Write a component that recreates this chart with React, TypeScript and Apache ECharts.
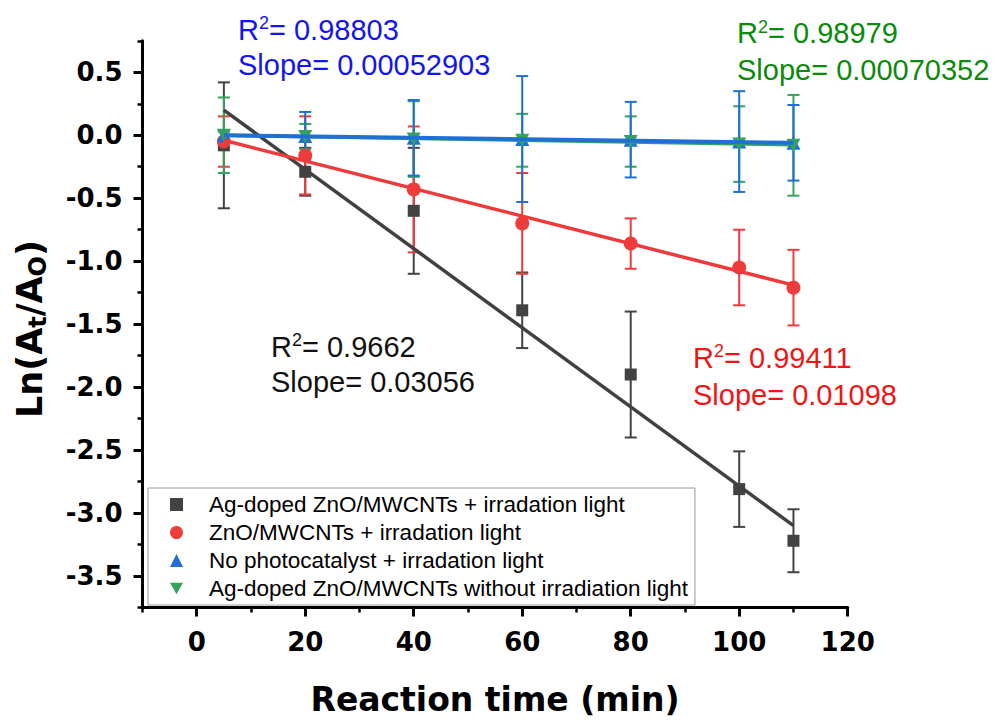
import React, { useEffect, useRef } from "react";
import * as echarts from "echarts";

// ---- data ----
const time = [5, 20, 40, 60, 80, 100, 110];

const agLight = [-0.08, -0.29, -0.6, -1.39, -1.9, -2.81, -3.22];
const agLightErr = [0.5, 0.19, 0.5, 0.3, 0.5, 0.3, 0.25];

const znoLight = [-0.05, -0.16, -0.43, -0.7, -0.86, -1.05, -1.21];
const znoLightErr = [0.2, 0.31, 0.5, 0.4, 0.2, 0.3, 0.3];

const noCatLight = [0.0, -0.005, -0.02, -0.03, -0.035, -0.05, -0.06];
const noCatLightErr = [0.03, 0.19, 0.3, 0.5, 0.3, 0.4, 0.3];

const agDark = [0.0, -0.01, -0.03, -0.04, -0.05, -0.07, -0.08];
const agDarkErr = [0.3, 0.1, 0.3, 0.21, 0.2, 0.3, 0.4];

const fitX = [5, 110];
const agLightFit = [0.2, -3.1];
const znoLightFit = [-0.04, -1.19];
const noCatLightFit = [0.0, -0.06];
const agDarkFit = [0.0, -0.075];

const xMajorTicks = [0, 20, 40, 60, 80, 100, 120];
const yMajorTicks = [-3.5, -3, -2.5, -2, -1.5, -1, -0.5, 0, 0.5];

const names = [
  "Ag-doped ZnO/MWCNTs + irradation light",
  "ZnO/MWCNTs + irradation light",
  "No photocatalyst + irradation light",
  "Ag-doped ZnO/MWCNTs without irradiation light",
];

const annotations = [
  { r2: "0.98803", slope: "0.00052903", color: "#1414ee", x: 238, y1: 29.5, y2: 65 },
  { r2: "0.98979", slope: "0.00070352", color: "#0b8a0b", x: 737, y1: 33, y2: 70 },
  { r2: "0.9662", slope: "0.03056", color: "#111111", x: 271, y1: 346.7, y2: 381.7 },
  { r2: "0.99411", slope: "0.01098", color: "#f01515", x: 693, y1: 357.5, y2: 395 },
];

const colors = ["#424242", "#ee3b3b", "#1f6fd6", "#34a35e"];
const downTri = "path://M0,0 L10,0 L5,9 Z";

export default function App() {
  const ref = useRef<HTMLDivElement>(null);

  useEffect(() => {
    if (!ref.current) return;
    const chart = echarts.init(ref.current, null, { renderer: "svg" });

    const pair = (xs: number[], ys: number[]) => xs.map((x, i) => [x, ys[i]]);
    const triple = (ys: number[], es: number[]) => time.map((x, i) => [x, ys[i], es[i]]);

    const errSeries = (data: number[][], color: string, name: string) => ({
      type: "custom",
      name: name + " err",
      data,
      z: 2,
      clip: false,
      silent: true,
      encode: { x: 0, y: 1 },
      renderItem: (params: any, api: any) => {
        const x = api.value(0);
        const y = api.value(1);
        const e = api.value(2);
        const top = api.coord([x, y + e]);
        const bot = api.coord([x, y - e]);
        const hw = 6;
        const style = { stroke: color, lineWidth: 2, fill: "none" };
        return {
          type: "group",
          children: [
            { type: "line", shape: { x1: top[0], y1: top[1], x2: bot[0], y2: bot[1] }, style },
            { type: "line", shape: { x1: top[0] - hw, y1: top[1], x2: top[0] + hw, y2: top[1] }, style },
            { type: "line", shape: { x1: bot[0] - hw, y1: bot[1], x2: bot[0] + hw, y2: bot[1] }, style },
          ],
        };
      },
    });

    const fitSeries = (ys: number[], color: string, width: number, z: number) => ({
      type: "line",
      data: pair(fitX, ys),
      symbol: "none",
      silent: true,
      z,
      lineStyle: { color, width },
    });

    const scatter = (name: string, ys: number[], color: string, symbol: string, size: any) => ({
      type: "scatter",
      name,
      data: pair(time, ys),
      symbol,
      symbolSize: size,
      z: 3,
      itemStyle: { color, opacity: 1 },
    });

    const graphic: any[] = [];
    annotations.forEach((a) => {
      graphic.push({
        type: "text",
        x: a.x,
        y: a.y1,
        silent: true,
        style: {
          text: "{n|R}{s|2}{n|= " + a.r2 + "}",
          align: "left",
          verticalAlign: "middle",
          fill: a.color,
          rich: {
            n: { fontSize: 29, fontFamily: "Liberation Sans", fill: a.color, lineHeight: 31 },
            s: { fontSize: 18, fontFamily: "Liberation Sans", fill: a.color, verticalAlign: "top", lineHeight: 18 },
          },
        },
      });
      graphic.push({
        type: "text",
        x: a.x,
        y: a.y2,
        silent: true,
        style: {
          text: "Slope= " + a.slope,
          fontSize: 29,
          fontFamily: "Liberation Sans",
          fill: a.color,
          align: "left",
          verticalAlign: "middle",
        },
      });
    });

    graphic.push({
      type: "text",
      x: 495,
      y: 699,
      silent: true,
      style: {
        text: "Reaction time (min)",
        fontSize: 33,
        fontWeight: "bold",
        fontFamily: "DejaVu Sans",
        fill: "#000",
        align: "center",
        verticalAlign: "middle",
      },
    });

    graphic.push({
      type: "text",
      x: 30,
      y: 329,
      rotation: Math.PI / 2,
      silent: true,
      style: {
        text: "{a|Ln(A}{b|t}{a|/A}{b|O}{a|)}",
        align: "center",
        verticalAlign: "middle",
        fill: "#000",
        rich: {
          a: { fontSize: 35, fontWeight: "bold", fontFamily: "DejaVu Sans", fill: "#000", lineHeight: 40 },
          b: { fontSize: 24, fontWeight: "bold", fontFamily: "DejaVu Sans", fill: "#000", lineHeight: 24, verticalAlign: "bottom" },
        },
      },
    });

    const tickLabel = {
      fontSize: 26,
      fontWeight: "bold",
      fontFamily: "DejaVu Sans",
      color: "#000",
    };

    chart.setOption({
      animation: false,
      grid: {
        left: 142.5,
        right: 147.3,
        top: 40.8,
        bottom: 114.5,
        containLabel: false,
        outerBoundsMode: "none",
      },
      xAxis: [
        {
          type: "value",
          min: -10,
          max: 120,
          interval: 10,
          position: "bottom",
          axisLine: { show: true, onZero: false, lineStyle: { color: "#000", width: 3 } },
          axisTick: { show: true, inside: false, length: 5, lineStyle: { color: "#000", width: 2.5 } },
          axisLabel: { show: false },
          splitLine: { show: false },
        },
        {
          type: "value",
          min: -10,
          max: 120,
          position: "bottom",
          axisLine: { show: false, onZero: false },
          axisTick: { show: true, length: 9, customValues: xMajorTicks, lineStyle: { color: "#000", width: 3 } },
          axisLabel: { ...tickLabel, margin: 21, customValues: xMajorTicks },
          splitLine: { show: false },
        },
      ],
      yAxis: [
        {
          type: "value",
          min: -3.75,
          max: 0.75,
          interval: 0.25,
          position: "left",
          axisLine: { show: true, onZero: false, lineStyle: { color: "#000", width: 3 } },
          axisTick: { show: true, length: 5, lineStyle: { color: "#000", width: 2.5 } },
          axisLabel: { show: false },
          splitLine: { show: false },
        },
        {
          type: "value",
          min: -3.75,
          max: 0.75,
          position: "left",
          axisLine: { show: false, onZero: false },
          axisTick: { show: true, length: 9, customValues: yMajorTicks, lineStyle: { color: "#000", width: 3 } },
          axisLabel: {
            ...tickLabel,
            margin: 20,
            customValues: yMajorTicks,
            formatter: (v: number) => v.toFixed(1),
          },
          splitLine: { show: false },
        },
      ],
      legend: {
        orient: "vertical",
        left: 148,
        top: 488,
        padding: [5, 7, 5, 22],
        itemGap: 5,
        itemWidth: 13,
        itemHeight: 13,
        borderColor: "#9a9a9a",
        borderWidth: 1,
        backgroundColor: "#fff",
        textStyle: {
          fontSize: 22.5,
          fontFamily: "Liberation Sans",
          color: "#000",
          padding: [0, 0, 0, 21],
        },
        data: [
          { name: names[0], icon: "rect" },
          { name: names[1], icon: "circle" },
          { name: names[2], icon: "triangle" },
          { name: names[3], icon: downTri },
        ],
        selectedMode: false,
      },
      graphic,
      series: [
        errSeries(triple(agLight, agLightErr), colors[0], names[0]),
        errSeries(triple(znoLight, znoLightErr), colors[1], names[1]),
        errSeries(triple(agDark, agDarkErr), colors[3], names[3]),
        errSeries(triple(noCatLight, noCatLightErr), colors[2], names[2]),
        scatter(names[0], agLight, colors[0], "rect", 12),
        scatter(names[1], znoLight, colors[1], "circle", 14),
        scatter(names[2], noCatLight, colors[2], "triangle", 14),
        scatter(names[3], agDark, colors[3], downTri, [14, 13]),
        fitSeries(agLightFit, "#404040", 3.5, 4),
        fitSeries(znoLightFit, "#ee3a3a", 3.5, 4),
        fitSeries(agDarkFit, "#34a35e", 3.5, 4),
        fitSeries(noCatLightFit, "#1f6fd6", 4, 5),
      ],
    } as any);

    return () => chart.dispose();
  }, []);

  return (
    <div
      ref={ref}
      style={{ position: "fixed", left: 0, top: 0, width: 995, height: 722, background: "#fff" }}
    />
  );
}
